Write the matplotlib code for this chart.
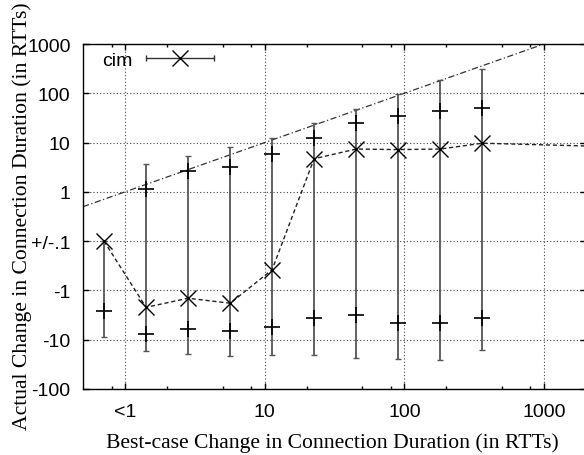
import numpy as np
import matplotlib
matplotlib.use('Agg')
import matplotlib.pyplot as plt
from matplotlib.ticker import FixedLocator, FixedFormatter, NullFormatter, NullLocator
from matplotlib.legend_handler import HandlerErrorbar

plt.rcParams['font.family'] = ['Liberation Sans', 'DejaVu Sans']

# best-case change (RTTs), bins at 2^(k+.5); the last one lies past the right edge
x_rtt = [0.707, 1.414, 2.83, 5.66, 11.3, 22.6, 45.3, 90.5, 181, 362, 2896]
cim_median = [0, -2.2, -1.44, -1.82, -0.38, 4.7, 7.4, 7.2, 7.4, 9.7, 8.3]
cim_low = [-8.9, -16.9, -19.1, -21.4, -20.3, -20.8, -23, -25, -25.8, -16.3]
cim_high = [0.1, 3.7, 5.4, 8.3, 12.5, 25, 48, 97, 190, 313]
pos_median = [np.nan, 1.12, 2.65, 3.17, 5.9, 12.4, 24.7, 35.3, 43, 50]
neg_median = [-2.6, -7.7, -6.1, -6.7, -5.6, -3.7, -3.2, -4.6, -4.6, -3.6]
diagonal = [0.5, 2000]

x_ticks = [1, 10, 100, 1000]
x_tick_labels = ['<1', '10', '100', '1000']
x_minor = [0.8, 2, 5, 8, 20, 50, 80, 200, 500, 800]
y_ticks = [-100, -10, -1, 0.1, 1, 10, 100, 1000]
y_tick_labels = ['-100', '-10', '-1', '+/-.1', '1', '10', '100', '1000']


def forward(v):
    # signed log, with (-.1, .1) squeezed onto one point
    v = np.asarray(v, dtype=float)
    a = np.log10(np.maximum(np.abs(v), 0.1))
    return np.where(v >= 0, a, -2 - a)


def inverse(u):
    u = np.asarray(u, dtype=float)
    with np.errstate(over='ignore'):
        return np.where(u >= -1, 10.0 ** u, -10.0 ** (-2 - u))


fig = plt.figure(figsize=(5.84, 4.56), dpi=100)
ax = fig.add_axes([83 / 584, 66 / 456, 503 / 584, 345 / 456])
ax.set_xscale('log')
ax.set_yscale('function', functions=(forward, inverse))
ax.set_xlim(0.5, 2000)
ax.set_ylim(-100, 1000)

grid_style = dict(color='#444444', linestyle=(0, (1, 2)), linewidth=0.8)
ax.grid(True, which='major', **grid_style)
ax.set_axisbelow(True)

ax.plot(diagonal, diagonal, color='#333333', linewidth=0.9,
        linestyle=(0, (5, 2, 1, 2)))

n = len(cim_low)
med = np.array(cim_median[:n])
yerr = [med - np.array(cim_low), np.array(cim_high) - med]
ax.errorbar(x_rtt[:n], med, yerr=yerr, fmt='none', ecolor='#555555',
            elinewidth=1.3, capsize=2, capthick=1)
ax.plot(x_rtt[:n], pos_median, linestyle='none', marker='+', markersize=11,
        markeredgewidth=1.2, color='black')
ax.plot(x_rtt[:n], neg_median, linestyle='none', marker='+', markersize=11,
        markeredgewidth=1.2, color='black')
ax.plot(x_rtt, cim_median, color='#222222', linewidth=1,
        linestyle=(0, (3, 2)), marker='x', markersize=12,
        markeredgewidth=1, markeredgecolor='black')

# legend sample in gnuplot style: horizontal bar with caps and the point
proxy = ax.errorbar([np.nan], [np.nan], xerr=[1], fmt='x', markersize=12,
                    markeredgewidth=1, color='black', ecolor='#333333',
                    elinewidth=1, capsize=2.5)
ax.legend([proxy], ['cim'], handler_map={proxy: HandlerErrorbar(xerr_size=1.75)},
          loc='center left', bbox_to_anchor=(0.0378, 0.9536), frameon=False,
          markerfirst=False, numpoints=1, handlelength=3.8, handletextpad=0.55,
          borderpad=0, borderaxespad=0, prop={'family': 'Liberation Sans', 'size': 14})

ax.xaxis.set_major_locator(FixedLocator(x_ticks))
ax.xaxis.set_major_formatter(FixedFormatter(x_tick_labels))
ax.xaxis.set_minor_locator(FixedLocator(x_minor))
ax.xaxis.set_minor_formatter(NullFormatter())
ax.yaxis.set_major_locator(FixedLocator(y_ticks))
ax.yaxis.set_major_formatter(FixedFormatter(y_tick_labels))
ax.yaxis.set_minor_locator(NullLocator())

ax.tick_params(which='both', direction='in', top=True, right=True,
               labelsize=14, width=1)
ax.tick_params(which='major', length=4.5)
ax.tick_params(which='minor', length=2.2)
ax.tick_params(axis='x', pad=10)
ax.tick_params(axis='y', pad=9)
for spine in ax.spines.values():
    spine.set_linewidth(1)

label_font = {'family': 'Liberation Serif', 'size': 15.6}
ax.set_xlabel('Best-case Change in Connection Duration (in RTTs)', fontdict=label_font)
ax.set_ylabel('Actual Change in Connection Duration (in RTTs)', fontdict=label_font)
ax.xaxis.set_label_coords((332 - 83) / 503, (390 - 443) / 345)
ax.xaxis.label.set_va('center')
ax.yaxis.set_label_coords((22 - 83) / 503, (390 - 216) / 345)
ax.yaxis.label.set_va('center')

fig.savefig('out.png', dpi=100)
